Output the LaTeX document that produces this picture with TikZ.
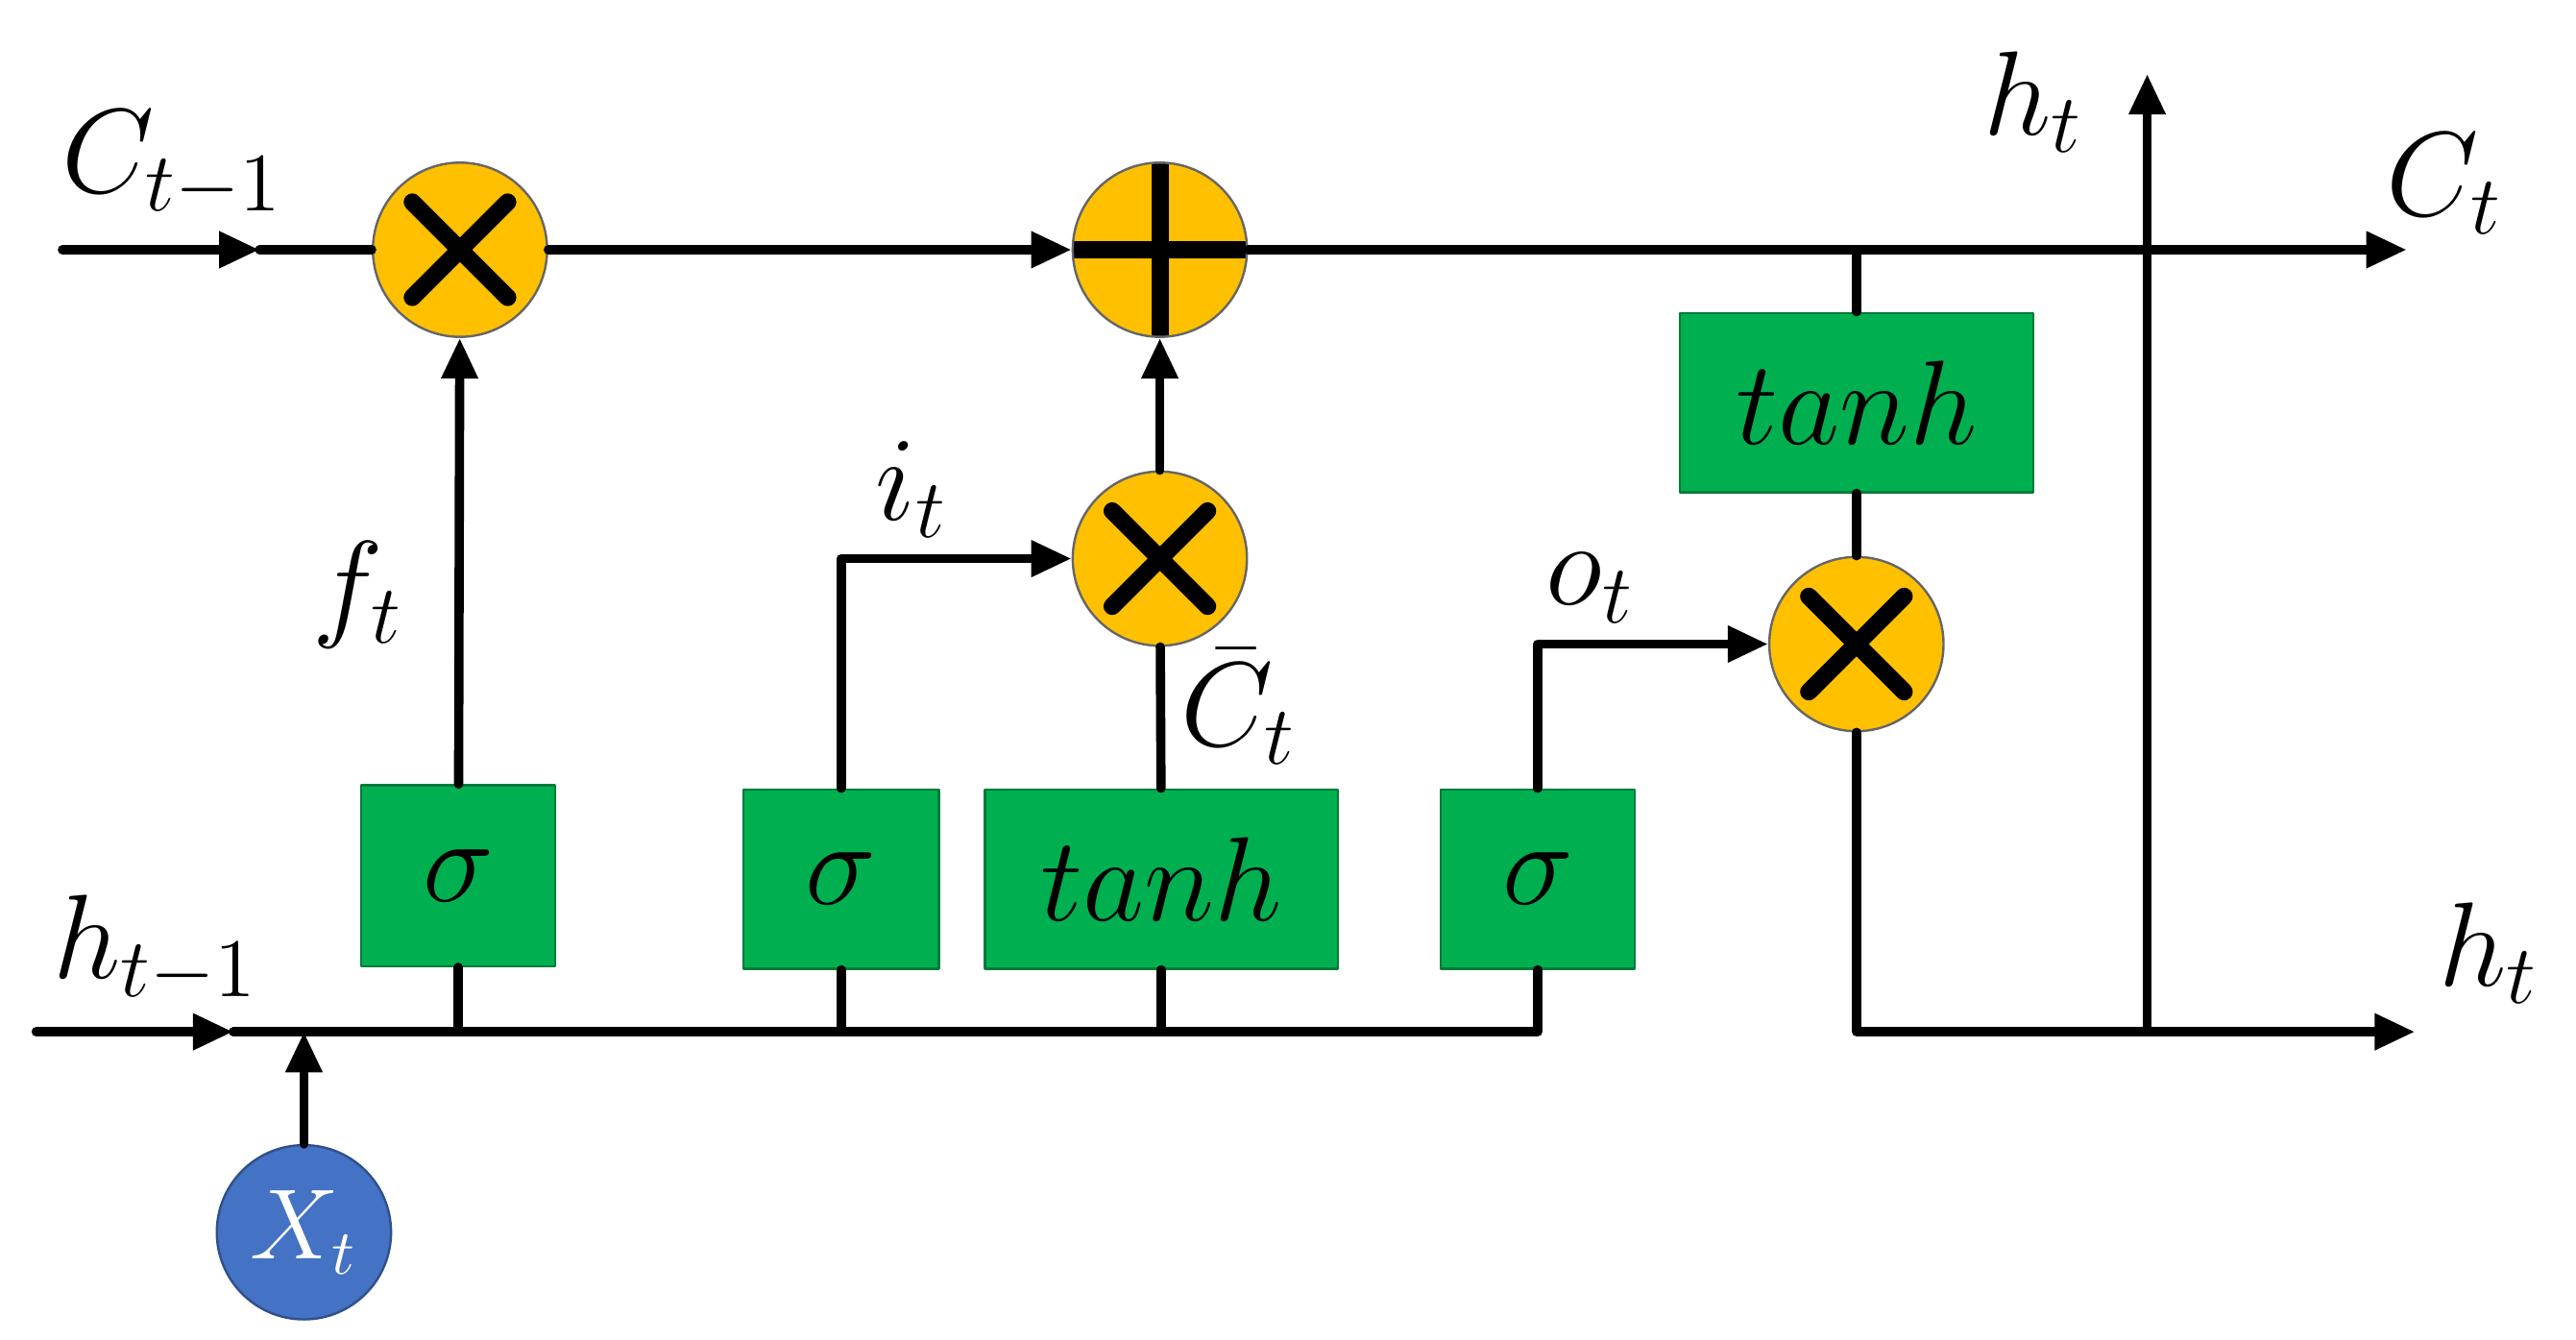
\documentclass[tikz,border=0pt]{standalone}
\usepackage{amsmath}
\usetikzlibrary{arrows.meta,positioning}
\definecolor{gateorange}{HTML}{FFC000}
\definecolor{boxgreen}{HTML}{00B050}
\definecolor{inblue}{HTML}{4472C4}
\tikzset{
  gate/.style={circle,draw=black!60,thin,fill=gateorange,minimum size=1.06cm,inner sep=0pt},
  mul/.style={gate,path picture={
      \draw[black,line width=3pt] ([shift={(-0.29cm,-0.29cm)}]path picture bounding box.center) -- ++(0.58cm,0.58cm);
      \draw[black,line width=3pt] ([shift={(-0.29cm,0.29cm)}]path picture bounding box.center) -- ++(0.58cm,-0.58cm);}},
  add/.style={gate,path picture={
      \draw[black,line width=3pt] ([xshift=-0.53cm]path picture bounding box.center) -- ++(1.06cm,0);
      \draw[black,line width=3pt] ([yshift=-0.53cm]path picture bounding box.center) -- ++(0,1.06cm);}},
  layer/.style={draw=boxgreen!70!black,thin,fill=boxgreen,inner sep=0pt,font=\fontsize{20}{24}\selectfont},
  lbl/.style={font=\fontsize{22}{26}\selectfont},
  wire/.style={line width=1.6pt},
}
\begin{document}
\begin{tikzpicture}[line cap=round,line join=round,>={Triangle[length=7pt,width=6pt]},x=0.01cm,y=-0.01cm]
  \useasboundingbox (0,0) rectangle (1568,815);

  % gates
  \node[mul] (f) at (280,152) {};
  \node[add] (plus) at (706,152) {};
  \node[mul] (i) at (706,340) {};
  \node[mul] (o) at (1130,392) {};
  \node[circle,fill=inblue,draw=inblue!70!black,thin,minimum size=1.06cm,inner sep=0pt,
        text=white,font=\fontsize{16}{19}\selectfont] (x) at (185,750) {$X_t$};

  % layers
  \node[layer,minimum width=1.18cm,minimum height=1.1cm] (sf) at (279,533) {$\sigma$};
  \node[layer,minimum width=1.19cm,minimum height=1.09cm] (si) at (512,535) {$\sigma$};
  \node[layer,minimum width=2.15cm,minimum height=1.09cm] (tc) at (707,535) {$tanh$};
  \node[layer,minimum width=1.18cm,minimum height=1.09cm] (so) at (936,535) {$\sigma$};
  \node[layer,minimum width=2.15cm,minimum height=1.09cm] (th) at (1130,245) {$tanh$};

  % points
  \coordinate (cin) at (38,152);
  \coordinate (cout) at (1465,152);
  \coordinate (hin) at (22,628);
  \coordinate (hj) at (142,628);
  \coordinate (xj) at (185,628);
  \coordinate (oc) at (1130,628);
  \coordinate (hout) at (1470,628);
  \coordinate (hb) at (1307,628);
  \coordinate (hup) at (1307,45);

  % cell state
  \draw[wire,->] (cin) -- (158,152);
  \draw[wire] (158,152) -- (f.west);
  \draw[wire,->] (f) -- (plus.west);
  \draw[wire,->] (plus) -- (cout);

  % hidden input bus
  \draw[wire,->] (hin) -- (hj);
  \draw[wire] (hj) -- (936,628) -- (so.south);
  \draw[wire,->] (x) -- (xj);
  \draw[wire] (sf.south) -- (279,628);
  \draw[wire] (si.south) -- (512,628);
  \draw[wire] (tc.south) -- (707,628);

  % gate signals
  \draw[wire,->] (sf) -- (f);
  \draw[wire,->] (si.north) -- (512,340) -- (i.west);
  \draw[wire] (tc) -- (i);
  \draw[wire,->] (i) -- (plus);
  \draw[wire,->] (so.north) -- (936,392) -- (o.west);

  % output
  \draw[wire] (1130,152) -- (th);
  \draw[wire] (th) -- (o);
  \draw[wire,->] (o) -- (oc) -- (hout);
  \draw[wire,->] (hb) -- (hup);

  % labels
  \node[lbl] at (105,100) {$C_{t-1}$};
  \node[lbl] at (1488,112) {$C_t$};
  \node[lbl] at (1238,62) {$h_t$};
  \node[lbl] at (1515,580) {$h_t$};
  \node[lbl] at (95,578) {$h_{t-1}$};
  \node[lbl] at (218,362) {$f_t$};
  \node[lbl] at (555,298) {$i_t$};
  \node[lbl,inner sep=1pt] at (754,430) {$\bar{C}_t$};
  \node[lbl] at (968,358) {$o_t$};
\end{tikzpicture}
\end{document}
